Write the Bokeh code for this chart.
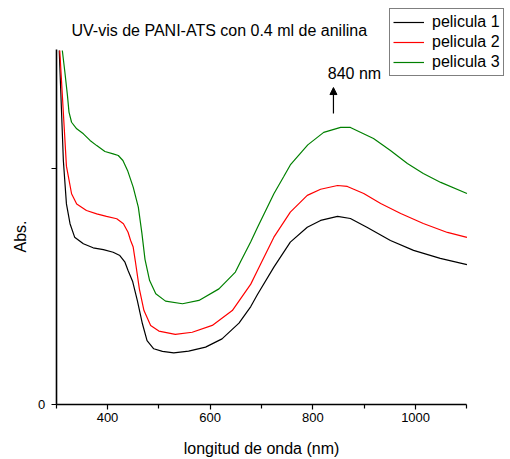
from bokeh.plotting import figure
from bokeh.models import (Range1d, FixedTicker, Legend, LegendItem, Label,
                          Arrow, NormalHead, LinearAxis)
from bokeh.embed import file_html
from bokeh.resources import INLINE

# UV-vis spectra: wavelength (nm) and absorbance for each film
wl_p1 = [306, 314, 320, 327, 336, 353, 372, 392, 411, 424, 434, 440, 449, 458,
         468, 477, 490, 507, 529, 558, 591, 623, 656, 679, 692, 724, 756, 789,
         815, 848, 873, 906, 951, 996, 1048, 1100]
abs_p1 = [1.500, 1.034, 0.850, 0.766, 0.709, 0.681, 0.664, 0.656, 0.645, 0.631,
          0.603, 0.568, 0.521, 0.441, 0.342, 0.271, 0.236, 0.225, 0.219, 0.226,
          0.243, 0.278, 0.345, 0.415, 0.466, 0.582, 0.688, 0.751, 0.780, 0.797,
          0.788, 0.750, 0.695, 0.653, 0.619, 0.593]

wl_p2 = [307, 320, 324, 330, 340, 359, 379, 398, 418, 431, 440, 445, 450, 454,
         462, 471, 484, 500, 532, 565, 604, 643, 679, 692, 724, 756, 789, 815,
         848, 867, 899, 932, 971, 1015, 1062, 1100]
abs_p2 = [1.500, 1.010, 0.963, 0.893, 0.850, 0.822, 0.808, 0.797, 0.787, 0.766,
          0.730, 0.695, 0.667, 0.610, 0.490, 0.398, 0.335, 0.311, 0.297, 0.306,
          0.335, 0.398, 0.510, 0.568, 0.709, 0.815, 0.886, 0.912, 0.928, 0.924,
          0.894, 0.852, 0.809, 0.767, 0.729, 0.708]

wl_p3 = [312, 317, 322, 325, 330, 340, 353, 366, 379, 395, 411, 421, 430, 439,
         450, 460, 467, 473, 482, 494, 513, 546, 578, 617, 649, 659, 679, 692,
         724, 743, 756, 790, 821, 854, 873, 918, 951, 984, 1015, 1049, 1100]
abs_p3 = [1.500, 1.408, 1.309, 1.239, 1.196, 1.168, 1.147, 1.119, 1.097, 1.072,
          1.062, 1.055, 1.034, 0.992, 0.921, 0.836, 0.725, 0.615, 0.525, 0.469,
          0.438, 0.427, 0.441, 0.490, 0.561, 0.605, 0.690, 0.750, 0.893, 0.965,
          1.015, 1.100, 1.153, 1.174, 1.174, 1.127, 1.076, 1.021, 0.979, 0.941,
          0.894]

series_names = ["pelicula 1", "pelicula 2", "pelicula 3"]
series_colors = ["#000000", "#ff0000", "#008000"]

x_major = [400, 600, 800, 1000]
x_minor = [300, 500, 700, 900, 1100]
y_ticks = [0, 1]

peak_nm = 840
peak_label = "840 nm"

FONT = "Liberation Sans"
W, H = 510, 459

# the frame fills the whole canvas; the axes sit at fixed data positions
p = figure(width=W, height=H, output_backend="svg", toolbar_location=None,
           x_range=Range1d(191.6, 1184.8), y_range=Range1d(-0.2331, 1.7119),
           x_axis_location=None, y_axis_location=None,
           min_border=0, min_border_left=0, min_border_right=0,
           min_border_top=0, min_border_bottom=0)
p.outline_line_color = None
p.grid.visible = False
p.background_fill_color = "white"
p.border_fill_color = "white"

renderers = []
for wl, ab, c in zip([wl_p1, wl_p2, wl_p3], [abs_p1, abs_p2, abs_p3], series_colors):
    renderers.append(p.line(wl, ab, line_color=c, line_width=1.2))

xaxis = LinearAxis(fixed_location=0, bounds=(300, 1100),
                   ticker=FixedTicker(ticks=x_major, minor_ticks=x_minor))
yaxis = LinearAxis(fixed_location=300, bounds=(0, 1.504),
                   ticker=FixedTicker(ticks=y_ticks, minor_ticks=[]),
                   major_label_overrides={0: "0", 1: ""})
for ax in (xaxis, yaxis):
    ax.axis_line_width = 1.6
    ax.axis_line_color = "black"
    ax.major_tick_line_color = "black"
    ax.minor_tick_line_color = "black"
    ax.major_tick_line_width = 1.2
    ax.minor_tick_line_width = 1.2
    ax.major_tick_in = 0
    ax.major_tick_out = 5
    ax.minor_tick_in = 0
    ax.minor_tick_out = 4
    ax.major_label_text_font = FONT
    ax.major_label_text_font_size = "13px"
    ax.major_label_text_color = "black"
xaxis.major_label_standoff = 4
yaxis.major_label_standoff = 6
p.add_layout(xaxis, "below")
p.add_layout(yaxis, "left")

# axis titles (screen units measured from the canvas bottom-left)
p.add_layout(Label(x=261, y=H - 448, x_units="screen", y_units="screen",
                   text="longitud de onda (nm)", text_align="center",
                   text_baseline="middle", text_font=FONT,
                   text_font_size="16px", text_color="black"))
p.add_layout(Label(x=20, y=H - 236, x_units="screen", y_units="screen", text="Abs.",
                   angle=1.5707963, text_align="center", text_baseline="middle",
                   text_font=FONT, text_font_size="16px", text_color="black"))

# chart title
p.add_layout(Label(x=71, y=H - 30, x_units="screen", y_units="screen",
                   text="UV-vis de PANI-ATS con 0.4 ml de anilina",
                   text_align="left", text_baseline="middle",
                   text_font=FONT, text_font_size="16px", text_color="black"))

# peak marker
p.add_layout(Arrow(x_start=peak_nm, y_start=1.233, x_end=peak_nm, y_end=1.343,
                   line_color="black", line_width=1.2,
                   end=NormalHead(size=7, fill_color="black", line_color="black",
                                  line_width=1)))
p.add_layout(Label(x=peak_nm, y=1.403, text=peak_label, x_offset=21,
                   text_align="center", text_baseline="middle",
                   text_font=FONT, text_font_size="16px", text_color="black"))

legend = Legend(items=[LegendItem(label=n, renderers=[r]) for n, r in zip(series_names, renderers)],
                location=(389, H - 76))
legend.label_text_font = FONT
legend.label_text_font_size = "16px"
legend.label_text_color = "black"
legend.border_line_color = "black"
legend.border_line_width = 1
legend.background_fill_color = "white"
legend.background_fill_alpha = 1
legend.padding = 3
legend.spacing = 0
legend.margin = 0
legend.label_height = 20
legend.glyph_height = 20
legend.glyph_width = 31
legend.label_standoff = 8
p.add_layout(legend)

open("out.html", "w").write(file_html(p, INLINE))
